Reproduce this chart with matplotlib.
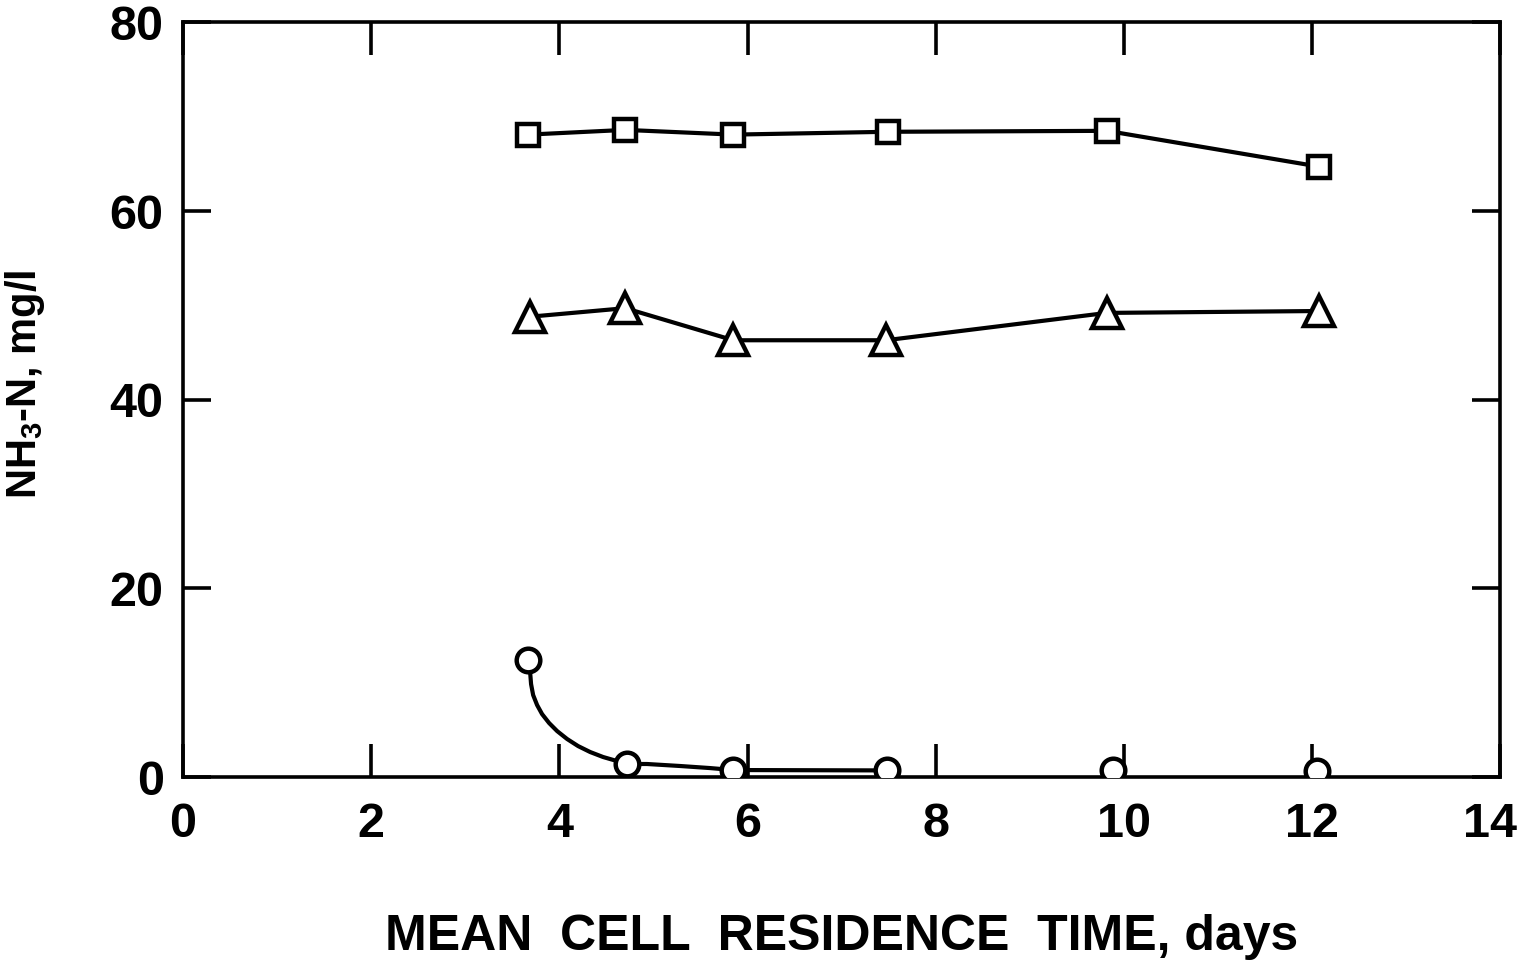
import matplotlib
matplotlib.use('Agg')
import matplotlib.pyplot as plt
from matplotlib.transforms import ScaledTranslation

# data
days = [3.67, 4.70, 5.85, 7.49, 9.82, 12.08]
nh3_square = [68.1, 68.6, 68.1, 68.4, 68.5, 64.7]
tri_days = [3.69, 4.70, 5.85, 7.47, 9.82, 12.08]
nh3_triangle = [48.8, 49.7, 46.3, 46.3, 49.2, 49.4]
circ_days = [3.67, 4.72, 5.85, 7.48, 9.88, 12.05]
nh3_circle = [12.4, 1.4, 0.7, 0.7, 0.75, 0.6]

# hand drawn curve through the circles
curve_days = [3.67, 3.689, 3.699, 3.721, 3.763, 3.816, 3.891, 3.976, 4.082,
              4.199, 4.327, 4.465, 4.614, 4.72, 4.93, 5.28, 5.60, 5.85, 7.48]
curve_nh3 = [12.4, 11.1, 9.85, 8.69, 7.63, 6.67, 5.72, 4.87, 4.03,
             3.28, 2.65, 2.12, 1.69, 1.38, 1.38, 1.17, 0.95, 0.74, 0.7]

xticks = [0, 2, 4, 6, 8, 10, 12, 14]
yticks = [0, 20, 40, 60, 80]

plt.rcParams['font.family'] = ['Liberation Sans', 'DejaVu Sans']
plt.rcParams['mathtext.default'] = 'bf'
plt.rcParams['mathtext.fontset'] = 'custom'
plt.rcParams['mathtext.bf'] = 'Liberation Sans:bold'

fig = plt.figure(figsize=(15.26, 9.72), dpi=100)
ax = fig.add_axes([0.12, 0.2006, 0.863, 0.7764])

lw = 3
ax.plot(days, nh3_square, color='black', lw=lw, marker='s', ms=16,
        mfc='white', mec='black', mew=3.2, zorder=3)
ax.plot(tri_days, nh3_triangle, color='black', lw=lw, marker='^', ms=22,
        mfc='white', mec='black', mew=3.2, zorder=3)
ax.plot(curve_days, curve_nh3, color='black', lw=lw, zorder=2,
        solid_capstyle='round', solid_joinstyle='round')
ax.plot(circ_days, nh3_circle, ls='none', marker='o', ms=17,
        mfc='white', mec='black', mew=3.2, zorder=3)

ax.set_xlim(0, 14)
ax.set_ylim(0, 80)
ax.set_xticks(xticks)
ax.set_yticks(yticks)
ax.tick_params(direction='in', length=24, width=2.6, top=True, right=True,
               labelsize=35, pad=18)
ax.tick_params(axis='y', length=20, pad=14)
for t in ax.get_xticklabels() + ax.get_yticklabels():
    t.set_fontweight('bold')
last = ax.get_xticklabels()[-1]
last.set_transform(last.get_transform() + ScaledTranslation(-7 / 72, 0, fig.dpi_scale_trans))
for s in ax.spines.values():
    s.set_linewidth(2.6)

ax.set_xlabel('MEAN  CELL  RESIDENCE  TIME, days', fontsize=36,
              fontweight='bold', labelpad=48)
ax.set_ylabel(r'NH$_3$-N, mg/l', fontsize=30, fontweight='bold')
ax.yaxis.set_label_coords(-0.103, 0.52)

fig.savefig('out.png', dpi=100, facecolor='white')
